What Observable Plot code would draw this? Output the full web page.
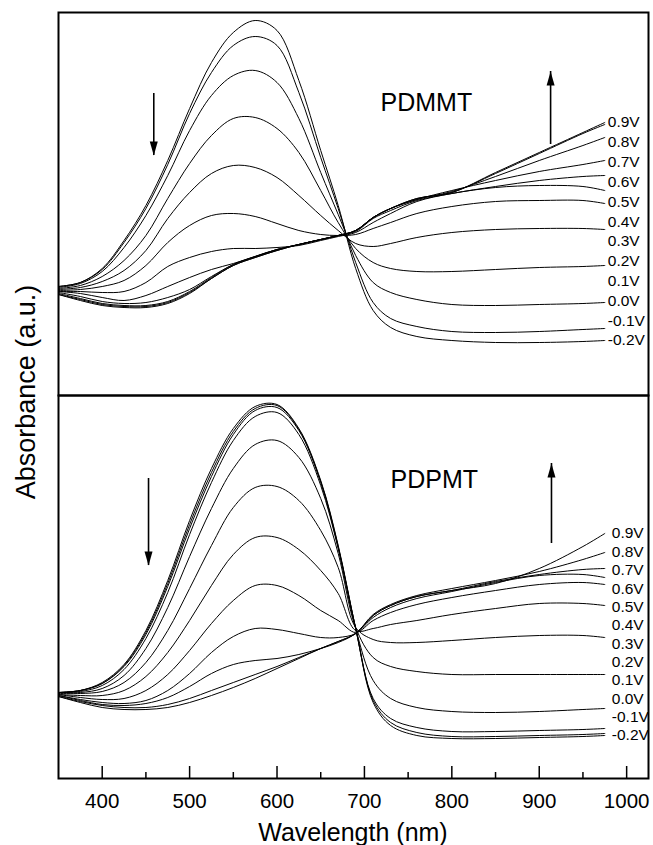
<!DOCTYPE html>
<html><head><meta charset="utf-8">
<script src="https://cdn.jsdelivr.net/npm/d3@7"></script>
<script src="https://cdn.jsdelivr.net/npm/@observablehq/plot@0.6"></script>
<style>body{margin:0;background:#fff}#chart{width:653px;height:845px}</style>
</head><body><div id="chart"></div>
<script>
// Wavelength grid (nm)
const wavelengths = [350, 375, 400, 425, 450, 475, 500, 525, 550, 575, 600, 625, 650, 670, 690, 710, 730, 760, 800, 850, 900, 950, 975];
// Applied potentials, in label order (top to bottom)
const voltages = ["0.9V", "0.8V", "0.7V", "0.6V", "0.5V", "0.4V", "0.3V", "0.2V", "0.1V", "0.0V", "-0.1V", "-0.2V"];
const panels = ["PDMMT", "PDPMT"];
const majorTicks = [400, 500, 600, 700, 800, 900, 1000];
const minorTicks = [450, 550, 650, 750, 850, 950];

// PDMMT absorbance (a.u.), one row per potential
const pdmmtAbs = [
  [1.01,0.95,0.90,0.88,0.88,0.92,1.02,1.17,1.30,1.38,1.45,1.51,1.56,1.60,1.65,1.78,1.87,1.97,2.03,2.23,2.43,2.63,2.73],
  [1.01,0.96,0.91,0.89,0.89,0.93,1.03,1.17,1.30,1.38,1.45,1.51,1.56,1.60,1.65,1.78,1.87,1.97,2.03,2.22,2.42,2.62,2.71],
  [1.02,0.97,0.92,0.90,0.90,0.94,1.04,1.18,1.31,1.39,1.46,1.51,1.56,1.60,1.65,1.78,1.87,1.96,2.04,2.19,2.35,2.50,2.58],
  [1.03,0.99,0.94,0.92,0.93,0.98,1.06,1.19,1.31,1.39,1.46,1.51,1.56,1.60,1.65,1.78,1.87,1.96,2.05,2.15,2.24,2.31,2.35],
  [1.04,1.02,0.98,0.95,1.00,1.09,1.18,1.26,1.32,1.39,1.46,1.51,1.56,1.60,1.64,1.77,1.85,1.95,2.02,2.09,2.15,2.19,2.20],
  [1.04,1.04,1.03,1.04,1.13,1.29,1.38,1.44,1.47,1.47,1.48,1.50,1.55,1.59,1.63,1.73,1.82,1.94,2.02,2.08,2.10,2.09,2.05],
  [1.05,1.06,1.09,1.15,1.30,1.53,1.70,1.80,1.82,1.79,1.72,1.65,1.61,1.60,1.61,1.67,1.73,1.82,1.89,1.94,1.95,1.95,1.92],
  [1.06,1.08,1.14,1.25,1.45,1.77,2.03,2.22,2.30,2.28,2.18,2.00,1.80,1.65,1.52,1.49,1.52,1.58,1.63,1.66,1.67,1.67,1.66],
  [1.07,1.10,1.19,1.35,1.60,1.97,2.32,2.60,2.77,2.78,2.67,2.43,2.05,1.73,1.47,1.33,1.27,1.24,1.24,1.26,1.28,1.29,1.30],
  [1.08,1.12,1.24,1.48,1.80,2.20,2.65,3.00,3.20,3.25,3.13,2.77,2.23,1.81,1.40,1.13,1.03,0.96,0.91,0.90,0.91,0.92,0.93],
  [1.09,1.13,1.26,1.53,1.87,2.31,2.82,3.23,3.50,3.59,3.50,3.03,2.38,1.87,1.33,0.93,0.77,0.69,0.64,0.63,0.64,0.66,0.67],
  [1.09,1.13,1.27,1.55,1.90,2.35,2.87,3.33,3.63,3.75,3.65,3.15,2.45,1.90,1.27,0.85,0.68,0.59,0.55,0.53,0.53,0.54,0.55]
];

// PDPMT absorbance (a.u.), one row per potential
const pdpmtAbs = [
  [0.82,0.76,0.71,0.69,0.69,0.71,0.76,0.83,0.91,1.00,1.10,1.20,1.30,1.37,1.45,1.63,1.73,1.82,1.88,1.95,2.10,2.32,2.45],
  [0.82,0.77,0.73,0.71,0.71,0.74,0.80,0.88,0.96,1.04,1.12,1.21,1.30,1.37,1.45,1.64,1.74,1.83,1.90,1.98,2.07,2.19,2.26],
  [0.83,0.78,0.74,0.73,0.75,0.81,0.92,1.05,1.14,1.18,1.20,1.24,1.30,1.36,1.45,1.63,1.73,1.82,1.88,1.97,2.04,2.09,2.10],
  [0.83,0.79,0.76,0.75,0.78,0.88,1.05,1.26,1.42,1.50,1.49,1.45,1.41,1.41,1.45,1.61,1.71,1.80,1.87,1.96,2.03,2.04,2.01],
  [0.84,0.81,0.79,0.80,0.88,1.04,1.28,1.55,1.78,1.93,1.93,1.83,1.68,1.58,1.46,1.58,1.66,1.74,1.81,1.88,1.94,1.96,1.94],
  [0.84,0.83,0.83,0.88,1.02,1.26,1.58,1.93,2.24,2.41,2.41,2.29,2.08,1.85,1.48,1.50,1.54,1.58,1.64,1.70,1.75,1.75,1.73],
  [0.85,0.85,0.87,0.96,1.16,1.48,1.90,2.33,2.71,2.91,2.92,2.78,2.48,2.11,1.51,1.39,1.36,1.36,1.38,1.41,1.43,1.43,1.41],
  [0.86,0.86,0.90,1.03,1.30,1.71,2.22,2.70,3.10,3.34,3.38,3.21,2.80,2.25,1.51,1.21,1.12,1.07,1.04,1.04,1.04,1.04,1.04],
  [0.86,0.87,0.93,1.09,1.40,1.86,2.44,2.96,3.38,3.62,3.66,3.44,2.93,2.30,1.50,0.98,0.80,0.71,0.67,0.66,0.67,0.69,0.70],
  [0.86,0.88,0.95,1.12,1.44,1.92,2.50,3.02,3.44,3.68,3.71,3.48,2.96,2.31,1.50,0.80,0.60,0.51,0.47,0.47,0.48,0.49,0.50],
  [0.86,0.88,0.95,1.13,1.46,1.95,2.54,3.06,3.47,3.70,3.73,3.49,2.97,2.32,1.50,0.78,0.56,0.46,0.42,0.42,0.43,0.44,0.45],
  [0.86,0.88,0.96,1.14,1.48,1.98,2.58,3.10,3.50,3.72,3.74,3.50,2.98,2.33,1.50,0.76,0.53,0.43,0.40,0.40,0.41,0.42,0.43]
];

// Arrow annotations (wavelength, absorbance start -> end)
const arrowPanel = ["PDMMT", "PDMMT", "PDPMT", "PDPMT"];
const arrowWl = [459, 913, 453, 914];
const arrowFrom = [3.02, 2.51, 3.00, 2.35];
const arrowTo = [2.40, 3.24, 2.13, 3.15];

// ---- build tables ----
const absBy = {PDMMT: pdmmtAbs, PDPMT: pdpmtAbs};
const rows = [];
for (const p of panels) voltages.forEach((v, vi) => wavelengths.forEach((w, wi) => rows.push({panel: p, volt: v, wl: w, abs: absBy[p][vi][wi]})));
const lastWl = wavelengths[wavelengths.length - 1];
const labelRows = [];
for (const p of panels) {
  const a = absBy[p];
  const top = a[0][a[0].length - 1], bot = a[a.length - 1][a[0].length - 1];
  voltages.forEach((v, i) => labelRows.push({panel: p, volt: v, wl: lastWl, pos: top + (bot - top) * i / (voltages.length - 1)}));
}
const arrows = arrowPanel.map((p, i) => ({panel: p, wl: arrowWl[i], from: arrowFrom[i], to: arrowTo[i]}));
const head = {draw(ctx) { ctx.moveTo(0, 0); ctx.lineTo(-4, 14); ctx.lineTo(4, 14); ctx.closePath(); }};

const font = "'Liberation Sans', Arial, Helvetica, sans-serif";
const chart = Plot.plot({
  width: 653, height: 845,
  marginTop: 12, marginRight: 5, marginBottom: 67, marginLeft: 58,
  style: {fontFamily: font, color: "black", background: "white"},
  x: {domain: [350, 1025]},
  y: {domain: [0, 3.83], axis: null},
  fy: {domain: panels, padding: 0, axis: null},
  marks: [
    Plot.line(rows, {x: "wl", y: "abs", z: "volt", fy: "panel", stroke: "black", strokeWidth: 1, curve: "catmull-rom"}),
    Plot.text(labelRows.filter(d => d.panel === "PDMMT"), {x: "wl", y: "pos", fy: "panel", text: "volt", textAnchor: "start", dx: 3, fontSize: 15.5, fill: "black"}),
    Plot.text(labelRows.filter(d => d.panel === "PDPMT"), {x: "wl", y: "pos", fy: "panel", text: "volt", textAnchor: "start", dx: 7, fontSize: 15.5, fill: "black"}),
    Plot.text([{panel: "PDMMT"}], {fy: "panel", text: "panel", frameAnchor: "top-left", textAnchor: "start", lineAnchor: "top", dx: 322, dy: 81, fontSize: 25, fill: "black"}),
    Plot.text([{panel: "PDPMT"}], {fy: "panel", text: "panel", frameAnchor: "top-left", textAnchor: "start", lineAnchor: "top", dx: 332, dy: 75, fontSize: 25, fill: "black"}),
    Plot.ruleX(arrows, {x: "wl", y1: "from", y2: "to", fy: "panel", stroke: "black", strokeWidth: 1.6}),
    Plot.dot(arrows, {x: "wl", y: "to", fy: "panel", symbol: head, rotate: d => d.to > d.from ? 0 : 180, fill: "black", stroke: "none", r: 4}),
    Plot.frame({stroke: "black", strokeWidth: 2}),
    Plot.axisX({ticks: majorTicks, tickSize: 12, dy: -12, fill: "none", label: null, strokeWidth: 1.5}),
    Plot.axisX({ticks: minorTicks, tickSize: 6, dy: -6, fill: "none", label: null, strokeWidth: 1.5}),
    Plot.axisX({ticks: majorTicks, tickSize: 0, tickPadding: 15, fontSize: 20.5, label: null, tickFormat: d => String(d), fill: "black"})
  ]
});
const svg = d3.select(chart);
svg.append("text").attr("x", 353).attr("y", 841).attr("text-anchor", "middle")
  .attr("font-family", font).attr("font-size", 25).attr("fill", "black").text("Wavelength (nm)");
svg.append("text").attr("transform", "translate(26,392) rotate(-90)").attr("text-anchor", "middle")
  .attr("dominant-baseline", "central").attr("font-family", font).attr("font-size", 27).attr("fill", "black").text("Absorbance (a.u.)");
document.getElementById("chart").appendChild(chart);
</script>
</body></html>
